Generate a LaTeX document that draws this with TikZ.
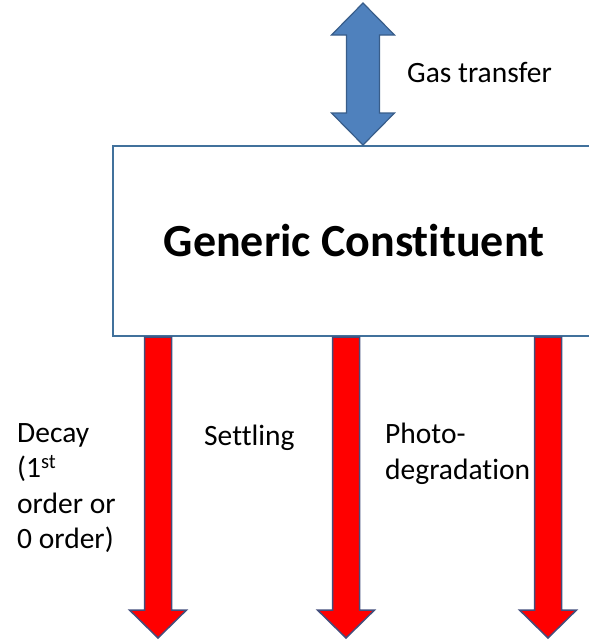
\documentclass[tikz,border=0pt]{standalone}
\usepackage{fontspec}
\setmainfont{Carlito}[Ligatures={NoCommon,NoContextual}]
\definecolor{boxline}{HTML}{41719C}
\definecolor{gasblue}{HTML}{4F81BD}
\definecolor{gasline}{HTML}{385D8A}
\definecolor{lossred}{HTML}{FF0000}
\definecolor{lossline}{HTML}{434E7C}
\tikzset{
  box/.style={draw=boxline, line width=2pt, fill=white, minimum width=482pt,
    minimum height=190pt, inner sep=0pt, font=\fontsize{46}{55}\selectfont\bfseries},
  gas/.style={fill=gasblue, draw=gasline, line width=1.2pt},
  loss/.style={fill=lossred, draw=lossline, line width=1.5pt},
  lbl/.style={inner sep=0pt, align=left, font=\fontsize{29.5}{35.5}\selectfont},
}
% downward block arrow: centre x, top y, tip y
\newcommand{\lossarrow}[3]{%
  \filldraw[loss] (#1-13.5,#2) -- (#1+13.5,#2) -- (#1+13.5,#3-28) -- (#1+28.5,#3-28)
    -- (#1,#3) -- (#1-28.5,#3-28) -- (#1-13.5,#3-28) -- cycle;}
\begin{document}
\begin{tikzpicture}[x=1pt,y=-1pt]
     \useasboundingbox (0,0) rectangle (589,641);
     \node[box] (gc) at (354,241) {Generic Constituent};
     % gas exchange
     \filldraw[gas] (363,3) -- (394.5,35) -- (379.5,35) -- (379.5,113) -- (394.5,113)
        -- (363,145) -- (331.5,113) -- (346.5,113) -- (346.5,35) -- (331.5,35) -- cycle;
     \node[lbl, anchor=base west] (gas) at (407,82) {Gas transfer};
     % losses
     \lossarrow{158}{337}{638}
     \lossarrow{346}{337}{638}
     \lossarrow{548}{337}{638}
     \node[lbl, anchor=north west] (decay) at (17,423) {Decay\\(1\textsuperscript{st}\\order or\\0 order)};
     \node[lbl, anchor=base west] (settle) at (204,445) {Settling};
     \node[lbl, anchor=north west] (photo) at (385,423) {Photo-\\degradation};
\end{tikzpicture}
\end{document}
